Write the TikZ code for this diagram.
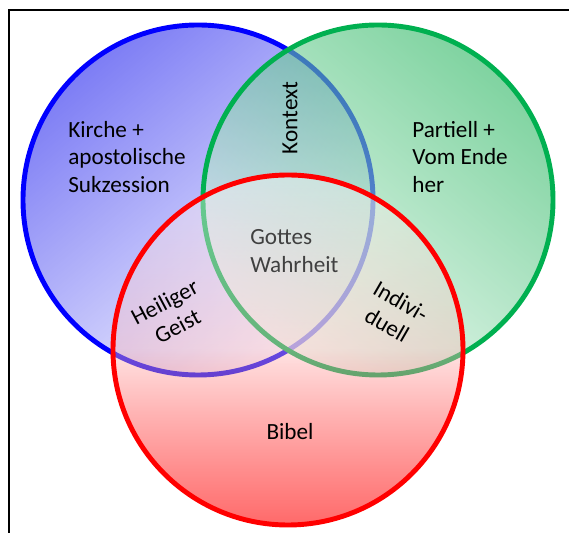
\documentclass[tikz,border=0pt]{standalone}
\usepackage{fontspec}
\setmainfont{Carlito}
\usepackage{xcolor}
\definecolor{ringblue}{RGB}{0,0,255}
\definecolor{ringgreen}{RGB}{0,176,80}
\definecolor{ringred}{RGB}{255,0,0}
\definecolor{bluedark}{RGB}{38,38,238}
\definecolor{bluelight}{RGB}{240,240,255}
\definecolor{greendark}{RGB}{42,182,97}
\definecolor{greenlight}{RGB}{230,247,237}
\definecolor{redlight}{RGB}{255,250,250}
\definecolor{redmid}{RGB}{255,120,120}
\definecolor{reddeep}{RGB}{255,135,135}
\definecolor{textgrey}{RGB}{64,64,64}

\begin{document}
\begin{tikzpicture}[
		ring/.style={line width=2.8pt},
		lbl/.style={font=\fontsize{13.2}{15.6}\selectfont, inner sep=0pt}
	]
	\useasboundingbox (-5.76,-5.16) rectangle (5.62,5.5);
	\draw [black, line width=1.1pt] (-5.58,-5.16) -- (-5.58,5.3) -- (5.62,5.3);
	% circle centres
	\coordinate (kirchemid) at (-1.8,1.5);
	\coordinate (partiellmid) at (1.8,1.5);
	\coordinate (bibelmid) at (0,-1.5);
	% blue circle
	\shade [top color=bluedark, bottom color=bluelight, shading angle=40, fill opacity=0.6] (kirchemid) circle (3.5);
	\draw [ringblue, ring] (kirchemid) circle (3.5);
	% green circle
	\shade [top color=greendark, bottom color=greenlight, shading angle=-40, fill opacity=0.6] (partiellmid) circle (3.5);
	\draw [ringgreen, ring] (partiellmid) circle (3.5);
	% red circle, light tint over all, deeper red in the lower half
	\shade [top color=redlight, bottom color=redmid, fill opacity=0.4] (bibelmid) circle (3.5);
	\begin{scope}
		\clip (bibelmid) circle (3.5);
		\shade [top color=white, bottom color=reddeep, blend mode=multiply] (-3.6,-1.5) rectangle (3.6,-5.0);
	\end{scope}
	\draw [ringred, ring] (bibelmid) circle (3.5);
	% labels
	\node [lbl, anchor=west, align=left] (kirche) at (-4.4,2.36) {Kirche +\\apostolische\\Sukzession};
	\node [lbl, anchor=west, align=left] (partiell) at (2.48,2.36) {Partiell +\\Vom Ende\\her};
	\node [lbl, rotate=90] (kontext) at (0.04,3.14) {Kontext};
	\node [lbl, anchor=west, align=left, textgrey] (wahrheit) at (-0.76,0.48) {Gottes\\Wahrheit};
	\node [lbl, rotate=28, align=center] (geist) at (-2.34,-0.78) {Heiliger\\Geist};
	\node [lbl, rotate=-30, align=center] (individuell) at (2.12,-0.76) {Indivi-\\duell};
	\node [lbl] (bibel) at (0.04,-3.14) {Bibel};
\end{tikzpicture}
\end{document}
